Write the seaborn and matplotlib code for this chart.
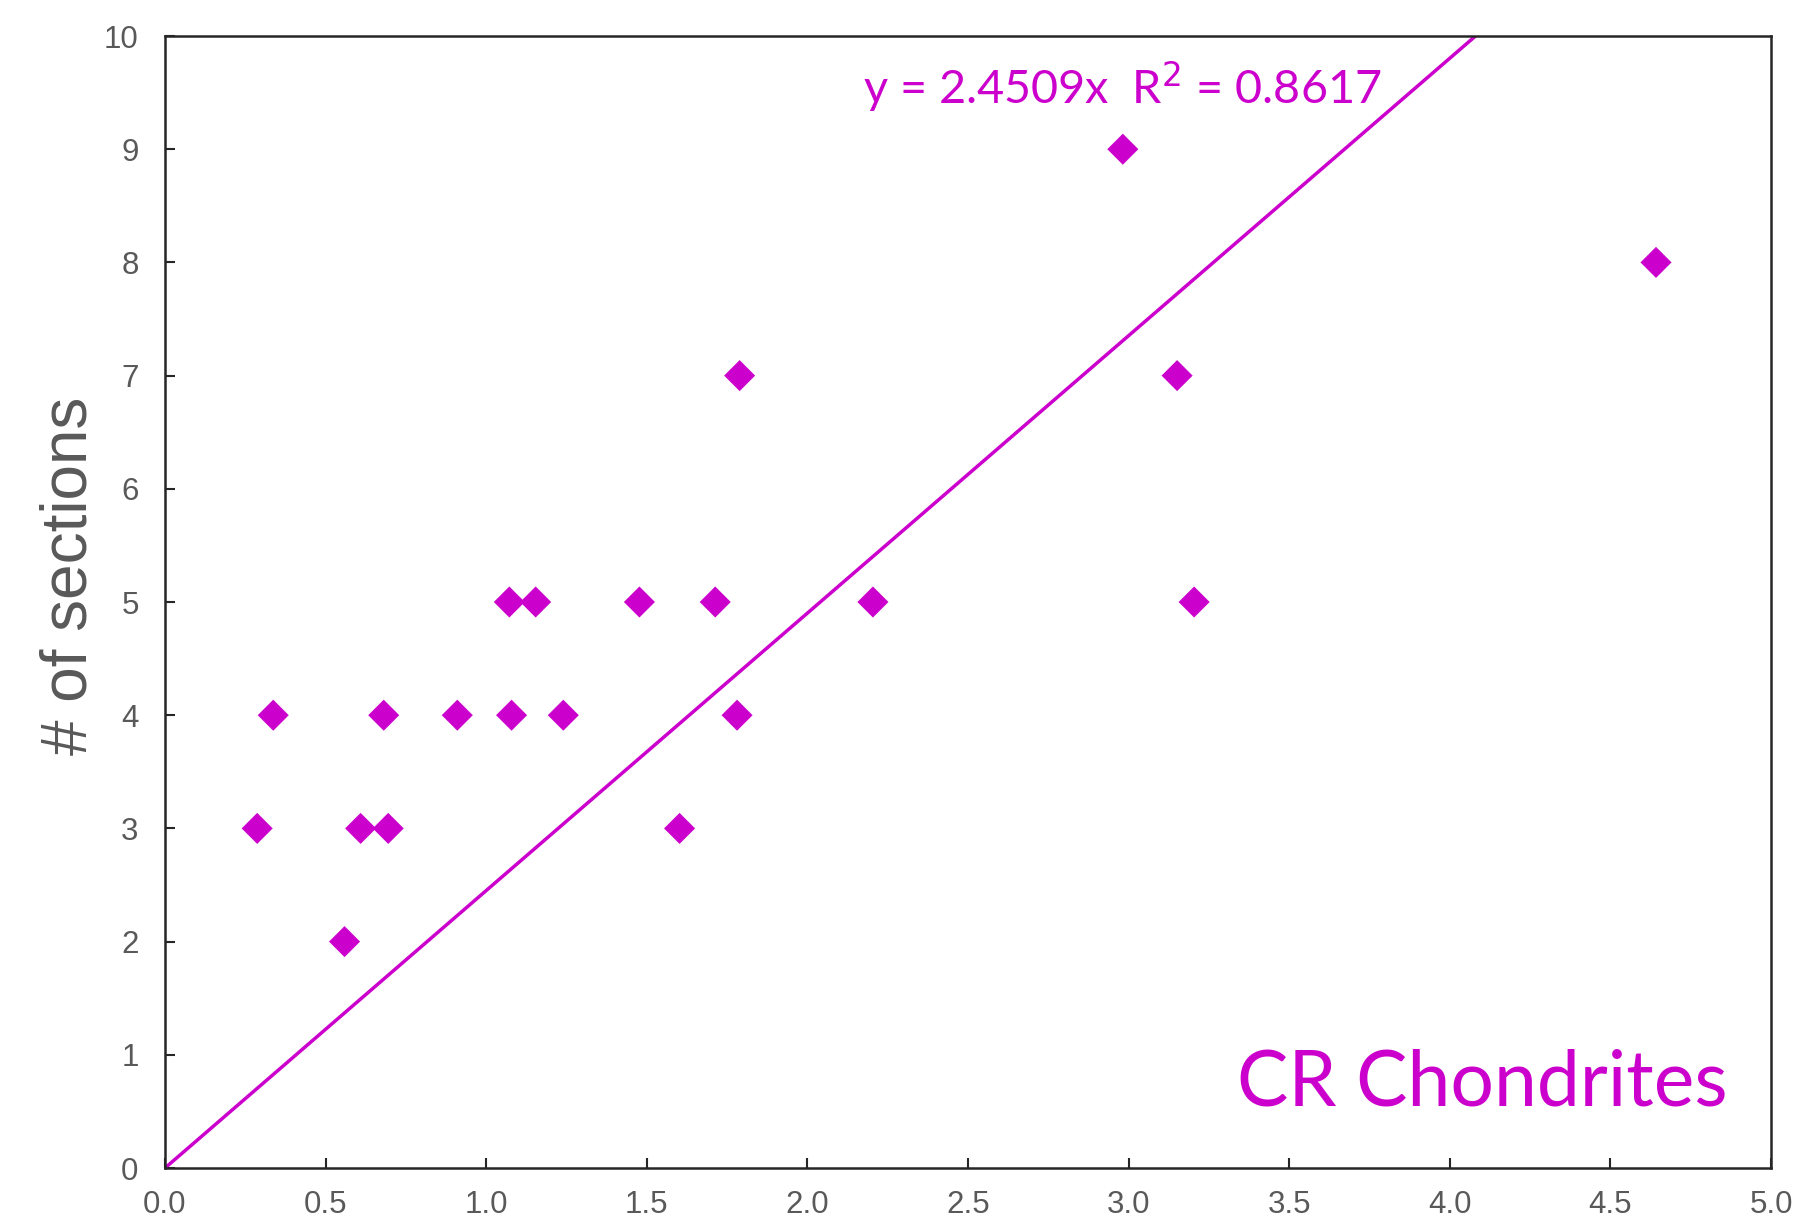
import numpy as np
import pandas as pd
import matplotlib
matplotlib.use("Agg")
import matplotlib.pyplot as plt
import seaborn as sns
from matplotlib.transforms import IdentityTransform

# ---- data ----
x_vals = [0.287, 0.337, 0.559, 0.609, 0.681, 0.695, 0.910, 1.072, 1.079, 1.154,
          1.240, 1.477, 1.602, 1.713, 1.781, 1.789, 2.204, 2.982, 3.151, 3.204, 4.642]
y_vals = [3, 4, 2, 3, 4, 3, 4, 5, 4, 5,
          4, 5, 3, 5, 4, 7, 5, 9, 7, 5, 8]
slope = 2.4509
r2 = 0.8617
x_ticks = [0.0, 0.5, 1.0, 1.5, 2.0, 2.5, 3.0, 3.5, 4.0, 4.5, 5.0]
y_ticks = [0, 1, 2, 3, 4, 5, 6, 7, 8, 9, 10]
y_label = "# of sections"
title_text = "CR Chondrites"

MAGENTA = "#CC00CC"
GRAY = "#595959"

sns.set_theme(style="white")
plt.rcParams["font.family"] = ["Liberation Sans", "DejaVu Sans"]

df = pd.DataFrame({"x": x_vals, "y": y_vals})

fig = plt.figure(figsize=(18.06, 12.23), dpi=100)
ax = fig.add_axes([0.09136, 0.04497, 0.88926, 0.92559])

sns.scatterplot(data=df, x="x", y="y", ax=ax, marker="D", s=250,
                color=MAGENTA, edgecolor="none", linewidth=0, zorder=3)
ax.axline((0, 0), slope=slope, color=MAGENTA, lw=2.5, zorder=2)

ax.set_xlim(0, 5)
ax.set_ylim(0, 10)
ax.set_xticks(x_ticks)
ax.set_xticklabels([f"{v:.1f}" for v in x_ticks])
ax.set_yticks(y_ticks)
ax.set_yticklabels([str(v) for v in y_ticks])

ax.set_xlabel("")
ax.set_ylabel(y_label, fontsize=46, color=GRAY)
ax.yaxis.set_label_coords(-0.041, 0.523)

for side in ["left", "right", "top", "bottom"]:
    ax.spines[side].set_visible(True)
    ax.spines[side].set_color("#262626")
    ax.spines[side].set_linewidth(1.8)

ax.tick_params(axis="both", which="major", direction="in", length=7, width=1.5,
               color="#262626", labelcolor=GRAY, labelsize=22.5,
               top=False, right=False, bottom=True, left=True)
ax.tick_params(axis="y", pad=19)
ax.tick_params(axis="x", pad=16)

annot_font = ["Lato", "DejaVu Sans"]
eq = ax.text(0, 0, f"y = {slope}x  R$^2$ = {r2}", color=MAGENTA, fontsize=38,
             family=annot_font, ha="left", va="baseline")
tt = ax.text(0, 0, title_text, color=MAGENTA, fontsize=60,
             family=annot_font, ha="right", va="baseline")

# fit text widths to the reference
fig.canvas.draw()
renderer = fig.canvas.get_renderer()
H = fig.bbox.height
for t, target_w in [(eq, 519), (tt, 492)]:
    w = t.get_window_extent(renderer).width
    t.set_fontsize(t.get_fontsize() * target_w / w)

eq.set_transform(IdentityTransform())
eq.set_position((863, H - 103))
tt.set_transform(IdentityTransform())
tt.set_position((1728, H - 1106))

fig.savefig("out.png", dpi=100)
